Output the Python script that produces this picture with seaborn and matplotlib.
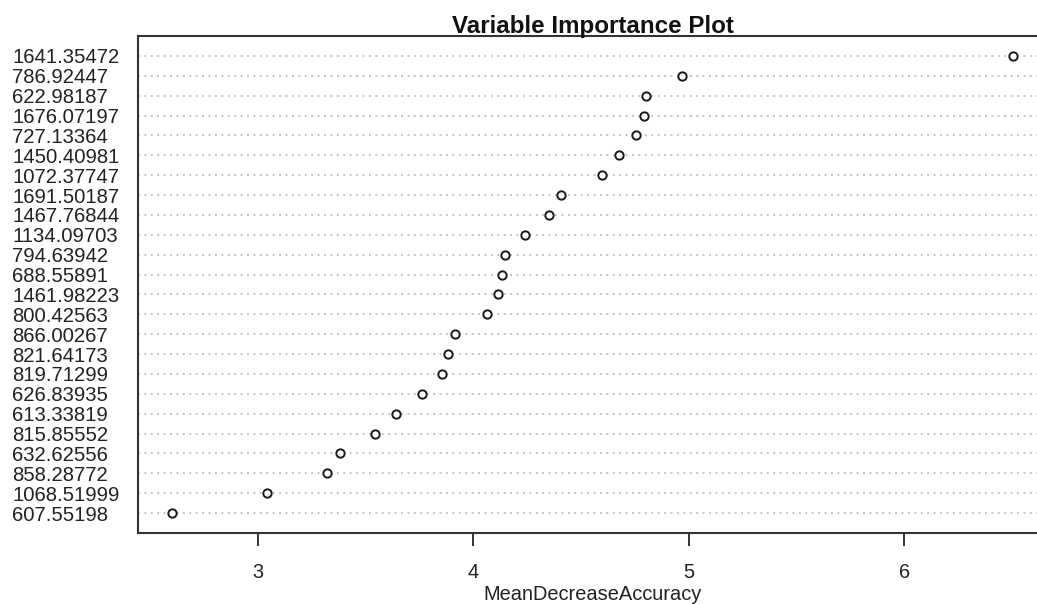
import matplotlib
matplotlib.use("Agg")
import matplotlib.pyplot as plt
import seaborn as sns
import pandas as pd

labels = ["1641.35472", "786.92447", "622.98187", "1676.07197", "727.13364",
          "1450.40981", "1072.37747", "1691.50187", "1467.76844", "1134.09703",
          "794.63942", "688.55891", "1461.98223", "800.42563", "866.00267",
          "821.64173", "819.71299", "626.83935", "613.33819", "815.85552",
          "632.62556", "858.28772", "1068.51999", "607.55198"]
values = [6.505, 4.966, 4.803, 4.794, 4.757,
          4.678, 4.595, 4.409, 4.349, 4.238,
          4.145, 4.131, 4.117, 4.062, 3.913,
          3.885, 3.853, 3.760, 3.640, 3.542,
          3.380, 3.320, 3.042, 2.601]
x_ticks = [3, 4, 5, 6]
title = "Variable Importance Plot"
x_label = "MeanDecreaseAccuracy"

sns.set_style("white")
plt.rcParams["font.family"] = ["Liberation Sans", "DejaVu Sans"]

df = pd.DataFrame({"var": labels, "imp": values})

fig = plt.figure(figsize=(10.37, 6.04), dpi=100)
ax = fig.add_axes([138 / 1037, 71 / 604, (1047 - 138) / 1037, (533 - 36) / 604])

n = len(labels)
xmin, xmax = 2.445, 6.661
ax.hlines(range(n), xmin, xmax, colors="#b0b0b0", linestyles=(0, (1.2, 3.0)),
          linewidth=1.1, zorder=1)

sns.stripplot(data=df, x="imp", y="var", order=labels, jitter=False, ax=ax,
              marker="o", size=6.0, color="white", edgecolor="#1a1a1a",
              linewidth=1.4, zorder=3)

ax.set_xlim(xmin, xmax)
ax.set_ylim(n, -1)
ax.set_xticks(x_ticks)
ax.set_xticklabels([str(t) for t in x_ticks])
ax.tick_params(axis="x", direction="out", length=9.5, width=1.4, color="#333333",
               pad=12, labelsize=14.4, labelcolor="#222222", bottom=True)
ax.tick_params(axis="y", length=0, pad=90.5, labelsize=14.6, labelcolor="#222222")
for t in ax.get_yticklabels():
    t.set_ha("left")

ax.set_ylabel("")
ax.set_xlabel(x_label, fontsize=14.4, color="#222222", labelpad=2)
ax.set_title(title, fontsize=17.4, fontweight="bold", color="#111111", pad=2.5)

for side in ["left", "top", "bottom"]:
    ax.spines[side].set_visible(True)
    ax.spines[side].set_color("#333333")
    ax.spines[side].set_linewidth(1.5)
ax.spines["right"].set_visible(False)

fig.savefig("out.png", dpi=100, facecolor="white")
